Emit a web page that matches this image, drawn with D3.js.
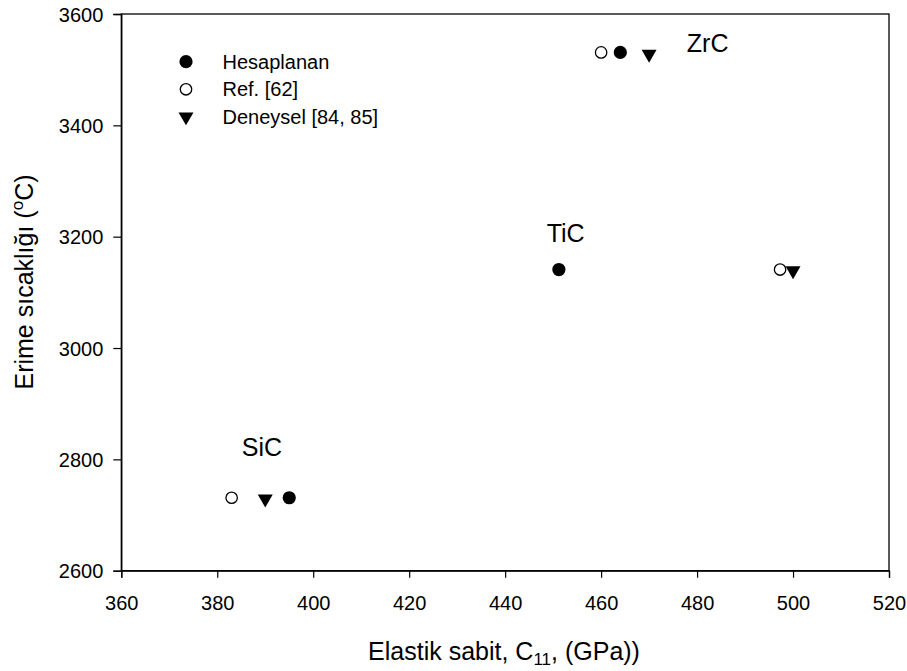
<!DOCTYPE html>
<html><head><meta charset="utf-8">
<script src="https://cdn.jsdelivr.net/npm/d3@7"></script>
<style>body{margin:0;background:#fff}svg{display:block}text{font-family:"Liberation Sans",Arial,sans-serif}</style>
</head><body><svg id="c" width="907" height="671"></svg>
<script>
const compounds = ["SiC","TiC","ZrC"];
const hesaplanan = [[395,2731],[451.2,3141],[464,3531]];
const ref62 = [[383,2731],[497.3,3141],[460,3531]];
const deneysel = [[390,2729],[500,3139],[470,3528]];
const labels = [{t:"SiC",x:389.3,y:2806},{t:"TiC",x:452.6,y:3190},{t:"ZrC",x:482.2,y:3532}];
const xTicks = [360,380,400,420,440,460,480,500,520];
const yTicks = [2600,2800,3000,3200,3400,3600];
const legendItems = ["Hesaplanan","Ref. [62]","Deneysel [84, 85]"];

const FONT = "'Liberation Sans',Arial,sans-serif";
const svg = d3.select("#c");
const L=121.3,R=889,T=14,B=570.7;
const x = d3.scaleLinear().domain([360,520]).range([L,R]);
const y = d3.scaleLinear().domain([2600,3600]).range([B,T]);

svg.append("rect").attr("x",L).attr("y",T).attr("width",R-L).attr("height",B-T)
  .attr("fill","none").attr("stroke","#000").attr("stroke-width",1.3);

const xa = svg.append("g").attr("transform",`translate(0,${B})`)
  .call(d3.axisBottom(x).tickValues(xTicks).tickSize(7).tickPadding(6).tickFormat(d3.format("d")));
const ya = svg.append("g").attr("transform",`translate(${L},0)`)
  .call(d3.axisLeft(y).tickValues(yTicks).tickSize(8).tickPadding(10).tickFormat(d3.format("d")));
[xa,ya].forEach(a=>{a.select(".domain").attr("stroke","#000").attr("stroke-width",1.3);
  a.selectAll(".tick line").attr("stroke","#000").attr("stroke-width",1.2);
  a.selectAll("text").attr("font-size",20).attr("fill","#000").style("font-family",FONT);});
xa.selectAll(".tick text").attr("y",39).attr("dy",0);
ya.selectAll(".tick text").attr("dy","0.36em");

const tri = d3.symbol().type(d3.symbolTriangle).size(97);
function drawSet(g,data,type){
  data.forEach(d=>{
    if(type==="filled") g.append("circle").attr("cx",x(d[0])).attr("cy",y(d[1])).attr("r",6.6).attr("fill","#000");
    else if(type==="open") g.append("circle").attr("cx",x(d[0])).attr("cy",y(d[1])).attr("r",5.7).attr("fill","#fff").attr("stroke","#000").attr("stroke-width",1.3);
    else g.append("path").attr("d",tri).attr("transform",`translate(${x(d[0])},${y(d[1])}) rotate(180)`).attr("fill","#000");
  });
}
const pts = svg.append("g");
drawSet(pts,ref62,"open");
drawSet(pts,hesaplanan,"filled");
drawSet(pts,deneysel,"tri");

svg.append("g").selectAll("text").data(labels).join("text")
  .attr("x",d=>x(d.x)).attr("y",d=>y(d.y)).attr("text-anchor","middle").attr("font-size",25).text(d=>d.t);

// legend
const lg = svg.append("g");
const ly=[61.7,89.3,116.7];
lg.append("circle").attr("cx",186).attr("cy",ly[0]).attr("r",6.6).attr("fill","#000");
lg.append("circle").attr("cx",186).attr("cy",ly[1]).attr("r",5.7).attr("fill","#fff").attr("stroke","#000").attr("stroke-width",1.3);
lg.append("path").attr("d",tri).attr("transform",`translate(186,${ly[2]}) rotate(180)`).attr("fill","#000");
legendItems.forEach((t,i)=>lg.append("text").attr("x",222.5).attr("y",ly[i]+7).attr("font-size",20).text(t));

// axis titles
const xt = svg.append("text").attr("x",504).attr("y",660).attr("text-anchor","middle").attr("font-size",25);
xt.append("tspan").text("Elastik sabit, C");
xt.append("tspan").attr("font-size",17).attr("dy",5).text("11");
xt.append("tspan").attr("dy",-5).text(", (GPa))");

const yt = svg.append("text").attr("transform",`translate(33,282) rotate(-90)`).attr("text-anchor","middle").attr("font-size",25);
yt.append("tspan").text("Erime sıcaklığı (");
yt.append("tspan").attr("font-size",17).attr("dy",-10).text("o");
yt.append("tspan").attr("dy",10).text("C)");
</script></body></html>
